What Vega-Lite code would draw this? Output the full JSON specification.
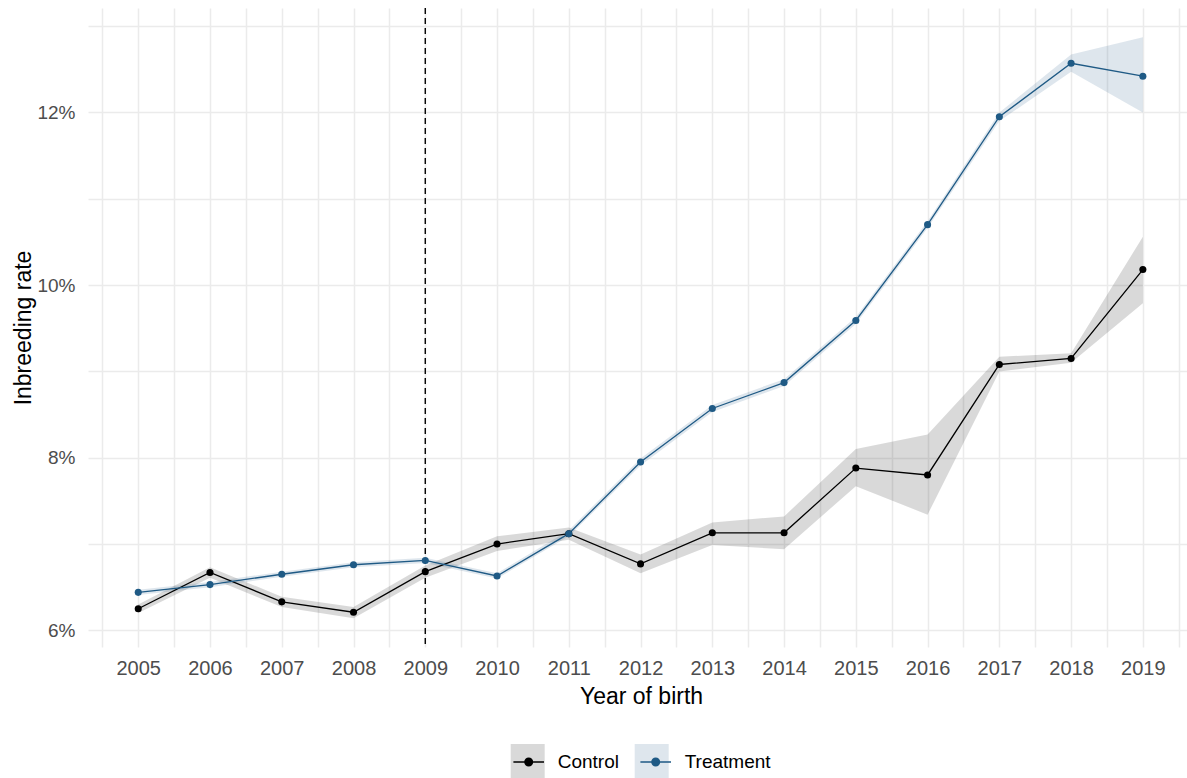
{
  "$schema": "https://vega.github.io/schema/vega-lite/v6.json",
  "width": 1099,
  "height": 639,
  "autosize": "none",
  "padding": {"left": 88, "top": 8, "right": 0, "bottom": 131},
  "background": "white",
  "config": {
    "view": {"stroke": null},
    "font": "Liberation Sans",
    "axis": {
      "domain": false,
      "ticks": false,
      "tickSize": 0,
      "gridColor": "#EBEBEB",
      "gridWidth": 1.5,
      "labelFont": "Liberation Sans",
      "labelFontSize": 19,
      "labelColor": "#4D4D4D",
      "titleFont": "Liberation Sans",
      "titleFontSize": 23,
      "titleFontWeight": "normal",
      "titleColor": "#000000",
      "labelOverlap": false,
      "labelFlush": false,
      "labelBound": false
    }
  },
  "data": {
    "values": [
      {"year": 2005, "group": "Control", "rate": 6.25, "lo": 6.2, "hi": 6.3},
      {"year": 2006, "group": "Control", "rate": 6.67, "lo": 6.61, "hi": 6.73},
      {"year": 2007, "group": "Control", "rate": 6.33, "lo": 6.27, "hi": 6.39},
      {"year": 2008, "group": "Control", "rate": 6.21, "lo": 6.14, "hi": 6.27},
      {"year": 2009, "group": "Control", "rate": 6.68, "lo": 6.61, "hi": 6.75},
      {"year": 2010, "group": "Control", "rate": 7.0, "lo": 6.92, "hi": 7.09},
      {"year": 2011, "group": "Control", "rate": 7.12, "lo": 7.05, "hi": 7.19},
      {"year": 2012, "group": "Control", "rate": 6.77, "lo": 6.66, "hi": 6.88},
      {"year": 2013, "group": "Control", "rate": 7.13, "lo": 6.99, "hi": 7.25},
      {"year": 2014, "group": "Control", "rate": 7.13, "lo": 6.94, "hi": 7.32},
      {"year": 2015, "group": "Control", "rate": 7.88, "lo": 7.67, "hi": 8.1},
      {"year": 2016, "group": "Control", "rate": 7.8, "lo": 7.34, "hi": 8.27},
      {"year": 2017, "group": "Control", "rate": 9.08, "lo": 9.0, "hi": 9.17},
      {"year": 2018, "group": "Control", "rate": 9.15, "lo": 9.1, "hi": 9.21},
      {"year": 2019, "group": "Control", "rate": 10.18, "lo": 9.79, "hi": 10.56},
      {"year": 2005, "group": "Treatment", "rate": 6.44, "lo": 6.41, "hi": 6.47},
      {"year": 2006, "group": "Treatment", "rate": 6.53, "lo": 6.5, "hi": 6.56},
      {"year": 2007, "group": "Treatment", "rate": 6.65, "lo": 6.62, "hi": 6.68},
      {"year": 2008, "group": "Treatment", "rate": 6.76, "lo": 6.73, "hi": 6.79},
      {"year": 2009, "group": "Treatment", "rate": 6.81, "lo": 6.78, "hi": 6.84},
      {"year": 2010, "group": "Treatment", "rate": 6.63, "lo": 6.6, "hi": 6.66},
      {"year": 2011, "group": "Treatment", "rate": 7.12, "lo": 7.09, "hi": 7.16},
      {"year": 2012, "group": "Treatment", "rate": 7.95, "lo": 7.91, "hi": 7.99},
      {"year": 2013, "group": "Treatment", "rate": 8.57, "lo": 8.53, "hi": 8.61},
      {"year": 2014, "group": "Treatment", "rate": 8.87, "lo": 8.83, "hi": 8.91},
      {"year": 2015, "group": "Treatment", "rate": 9.59, "lo": 9.55, "hi": 9.63},
      {"year": 2016, "group": "Treatment", "rate": 10.7, "lo": 10.66, "hi": 10.74},
      {"year": 2017, "group": "Treatment", "rate": 11.95, "lo": 11.9, "hi": 12.0},
      {"year": 2018, "group": "Treatment", "rate": 12.57, "lo": 12.47, "hi": 12.67},
      {"year": 2019, "group": "Treatment", "rate": 12.42, "lo": 12.0, "hi": 12.87}
    ]
  },
  "encoding": {
    "x": {
      "field": "year",
      "type": "quantitative",
      "scale": {"domain": [2004.3, 2019.615], "nice": false, "zero": false},
      "axis": {
        "title": "Year of birth",
        "values": [2004.5, 2005, 2005.5, 2006, 2006.5, 2007, 2007.5, 2008, 2008.5, 2009, 2009.5, 2010, 2010.5, 2011, 2011.5, 2012, 2012.5, 2013, 2013.5, 2014, 2014.5, 2015, 2015.5, 2016, 2016.5, 2017, 2017.5, 2018, 2018.5, 2019, 2019.5],
        "labelExpr": "datum.value % 1 === 0 ? '' + datum.value : ''",
        "labelFontSize": 20,
        "labelPadding": 11,
        "titleX": 553,
        "titleY": 56,
        "titleBaseline": "alphabetic",
        "titleAnchor": null
      }
    }
  },
  "layer": [
    {
      "mark": {"type": "area", "fillOpacity": 0.15, "strokeWidth": 0},
      "encoding": {
        "y": {
          "field": "lo",
          "type": "quantitative",
          "scale": {"domain": [5.807, 13.21], "nice": false, "zero": false},
          "axis": {
            "title": "Inbreeding rate",
            "values": [6, 7, 8, 9, 10, 11, 12, 13],
            "labelExpr": "datum.value % 2 === 0 ? datum.value + '%' : ''",
            "labelPadding": 13,
            "titleX": -58,
            "titleY": 319.5,
            "titleAngle": -90,
            "titleAlign": "center",
            "titleBaseline": "alphabetic"
          }
        },
        "y2": {"field": "hi"},
        "fill": {
          "field": "group",
          "type": "nominal",
          "scale": {"domain": ["Control", "Treatment"], "range": ["#000000", "#1F5A85"]},
          "legend": {
            "title": null,
            "orient": "none",
            "direction": "horizontal",
            "legendX": 422.7,
            "legendY": 736,
            "padding": 0,
            "symbolType": "square",
            "symbolSize": 1156,
            "symbolOpacity": 0.15,
            "symbolStrokeWidth": 0,
            "labelExpr": "''",
            "labelFontSize": 19,
            "labelOffset": 0,
            "columnPadding": 90,
            "zindex": 1
          }
        }
      }
    },
    {
      "data": {"values": [{"year": 2009}]},
      "mark": {"type": "rule", "color": "#000000", "strokeWidth": 1.4, "strokeDash": [6, 4]},
      "encoding": {}
    },
    {
      "mark": {"type": "line", "strokeWidth": 1.3},
      "encoding": {
        "y": {
          "field": "rate",
          "type": "quantitative",
          "axis": {
            "title": "Inbreeding rate",
            "values": [6, 7, 8, 9, 10, 11, 12, 13],
            "labelExpr": "datum.value % 2 === 0 ? datum.value + '%' : ''",
            "labelPadding": 13,
            "titleX": -58,
            "titleY": 319.5,
            "titleAngle": -90,
            "titleAlign": "center",
            "titleBaseline": "alphabetic"
          }
        },
        "color": {
          "field": "group",
          "type": "nominal",
          "scale": {"range": ["#000000", "#1F5A85"]},
          "legend": {
            "title": null,
            "orient": "none",
            "direction": "horizontal",
            "legendX": 422.7,
            "legendY": 736,
            "padding": 0,
            "symbolType": "M-0.9,0H0.9M-0.22,0A0.22,0.22 0 1,0 0.22,0A0.22,0.22 0 1,0 -0.22,0Z",
            "symbolSize": 1156,
            "symbolStrokeWidth": 1.5,
            "symbolOpacity": 1,
            "labelFontSize": 19,
            "labelFont": "Liberation Sans",
            "labelColor": "#000000",
            "labelOffset": 11,
            "columnPadding": 17,
            "zindex": 2,
            "encode": {
              "symbols": {
                "update": {
                  "fill": {"scale": "color", "field": "value"},
                  "stroke": {"scale": "color", "field": "value"},
                  "opacity": {"value": 1}
                }
              }
            }
          }
        }
      }
    },
    {
      "mark": {"type": "point", "filled": true, "size": 50, "opacity": 1},
      "encoding": {
        "y": {
          "field": "rate",
          "type": "quantitative",
          "axis": {
            "title": "Inbreeding rate",
            "values": [6, 7, 8, 9, 10, 11, 12, 13],
            "labelExpr": "datum.value % 2 === 0 ? datum.value + '%' : ''",
            "labelPadding": 13,
            "titleX": -58,
            "titleY": 319.5,
            "titleAngle": -90,
            "titleAlign": "center",
            "titleBaseline": "alphabetic"
          }
        },
        "color": {"field": "group", "type": "nominal"}
      }
    }
  ]
}
